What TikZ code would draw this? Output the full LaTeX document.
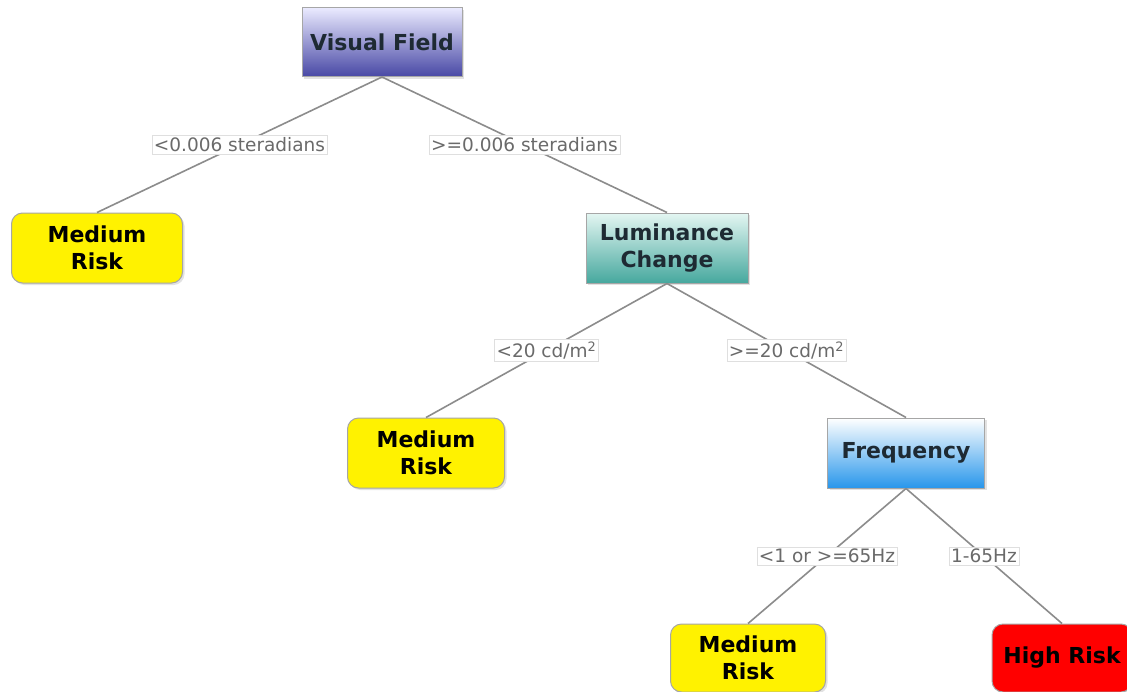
\documentclass[tikz,border=0pt]{standalone}
\usepackage{fontspec}
\setmainfont{DejaVu Sans}
\usetikzlibrary{shadows}
\definecolor{edgegray}{HTML}{8C8C8C}
\definecolor{labgray}{HTML}{6A6A6A}
\definecolor{txtdark}{HTML}{1E2A33}
\tikzset{
  x=1pt,y=-1pt,
  box/.style={draw=gray!70, line width=1pt, minimum width=158pt, minimum height=68pt,
    align=center, font=\bfseries\fontsize{22}{27}\selectfont, text=txtdark,
    drop shadow={shadow xshift=2pt,shadow yshift=-2pt,fill=gray!45}},
  riskbox/.style={box, rounded corners=11pt, text=black},
  medium/.style={riskbox, fill=yellow},
  high/.style={riskbox, fill=red},
  edge/.style={draw=edgegray, line width=1.6pt},
  lab/.style={fill=white, draw=gray!25, line width=0.6pt, text=labgray, inner sep=2pt,
    font=\fontsize{18.5}{21}\selectfont}
}
\begin{document}
\begin{tikzpicture}
\clip (0,0) rectangle (1127,691);
\fill[white] (0,0) rectangle (1127,691);
\node[box, minimum width=160pt, minimum height=69pt, top color=blue!8!white, bottom color={rgb,255:red,72;green,72;blue,165}] (vf) at (382,42) {Visual Field};
\node[medium, minimum width=171pt, minimum height=70pt] (m1) at (97,248) {Medium\\Risk};
\node[box, minimum width=162pt, minimum height=70pt, top color={rgb,255:red,228;green,246;blue,242}, bottom color={rgb,255:red,70;green,168;blue,158}] (lc) at (667,248) {Luminance\\Change};
\node[medium, minimum width=157pt, minimum height=70pt] (m2) at (426,453) {Medium\\Risk};
\node[box, minimum width=157pt, minimum height=70pt, top color=white, bottom color={rgb,255:red,40;green,150;blue,235}] (fq) at (906,453) {Frequency};
\node[medium, minimum width=155pt, minimum height=68pt] (m3) at (748,658) {Medium\\Risk};
\node[high, minimum width=140pt, minimum height=68pt] (hr) at (1062,658) {High Risk};

\draw[edge] (vf.south) -- node[lab, pos=0.5] {<0.006 steradians} (m1.north);
\draw[edge] (vf.south) -- node[lab, pos=0.5] {>=0.006 steradians} (lc.north);
\draw[edge] (lc.south) -- node[lab, pos=0.5] {<20 cd/m\textsuperscript{2}} (m2.north);
\draw[edge] (lc.south) -- node[lab, pos=0.5] {>=20 cd/m\textsuperscript{2}} (fq.north);
\draw[edge] (fq.south) -- node[lab, pos=0.5] {<1 or >=65Hz} (m3.north);
\draw[edge] (fq.south) -- node[lab, pos=0.5] {1-65Hz} (hr.north);
\end{tikzpicture}
\end{document}
